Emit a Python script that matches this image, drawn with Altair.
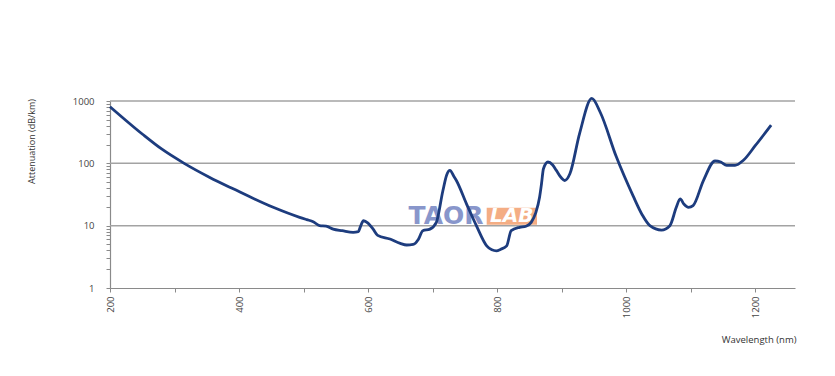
import altair as alt
import pandas as pd

# Wavelength (nm) and attenuation (dB/km)
wavelength = [200, 251, 280, 315, 354, 391, 453, 494, 505, 515, 525, 535, 546, 560, 577,
              585, 588, 593, 600, 608, 615, 634, 650, 660, 670, 678, 685, 696, 706, 716,
              722, 727, 733, 737, 753, 768, 784, 792, 799, 806, 815, 822, 835, 845, 853,
              860, 866, 869, 872, 879, 886, 892, 900, 905, 913, 928, 947, 960, 985, 1011,
              1025, 1037, 1055, 1068, 1078, 1084, 1090, 1097, 1104, 1120, 1138, 1147, 1156,
              1169, 1182, 1200, 1225]
attenuation = [810, 290, 170, 100, 60, 39, 19.7, 13.6, 12.5, 11.6, 10, 9.8, 8.8, 8.3, 7.8,
               8.0, 9.5, 12, 11, 8.8, 7.0, 6.1, 5.2, 4.9, 5.0, 6.0, 8.3, 8.8, 11.3, 36,
               65, 77, 62, 53, 22, 10, 4.75, 4.1, 3.95, 4.2, 4.75, 8.3, 9.4, 9.8, 11.3,
               16, 28.6, 47, 82, 105, 95, 77, 58, 53, 68, 300, 1100, 660, 127, 30,
               15, 10, 8.5, 10, 19.7, 27, 22, 19.7, 21, 53, 109, 105, 93,
               93, 112, 190, 410]

grid_values = [10, 100, 1000]
y_ticks = [1, 2, 3, 4, 5, 6, 7, 8, 9, 10, 20, 30, 40, 50, 60, 70, 80, 90,
           100, 200, 300, 400, 500, 600, 700, 800, 900, 1000]
x_ticks = list(range(200, 1251, 50))

# watermark
wm1_text, wm1_wl, wm1_att = ["TAOR"], [721], [14.3]
wm2_text, wm2_wl, wm2_att = ["LAB"], [823], [14.3]

FONT = "Open Sans"

df = pd.DataFrame({"wl": wavelength, "att": attenuation})
grid_df = pd.DataFrame({"att": grid_values})
wm1_df = pd.DataFrame({"wl": wm1_wl, "att": wm1_att, "t": wm1_text})
wm2_df = pd.DataFrame({"wl": wm2_wl, "att": wm2_att, "t": wm2_text})
box_df = pd.DataFrame({"wl": [784], "wl2": [862], "att": [10.3], "att2": [19.3]})

xscale = alt.Scale(domain=[200, 1262], nice=False, zero=False)
yscale = alt.Scale(type="log", domain=[1, 1000], nice=False)

x_enc = alt.X("wl:Q", scale=xscale, axis=alt.Axis(
    values=x_ticks, format="d",
    labelExpr="datum.value % 200 == 0 ? datum.label : ''",
    labelAngle=-90, labelPadding=4, labelFontSize=9.5, labelColor="#444444",
    labelFont=FONT, tickSize=4, tickColor="#8a8a8a", domainColor="#8a8a8a",
    domainWidth=1.2, grid=False,
    title="Wavelength (nm)", titleFont=FONT, titleFontSize=9.5, titleFontWeight="normal",
    titleColor="#333333", titleAlign="right", titleBaseline="middle",
    titleX=686, titleY=51))

y_enc = alt.Y("att:Q", scale=yscale, axis=alt.Axis(
    values=y_ticks, format="d",
    labelExpr="(datum.value == 1 || datum.value == 10 || datum.value == 100 || datum.value == 1000) ? datum.label : ''",
    labelPadding=12, labelFontSize=9.5, labelColor="#444444", labelFont=FONT,
    tickSize=4, tickColor="#8a8a8a", domainColor="#8a8a8a", domainWidth=1.2, grid=False,
    title="Attenuation (dB/km)", titleFont=FONT, titleFontSize=9, titleFontWeight="normal",
    titleColor="#333333", titleX=-79, titleY=40, titleAngle=-90,
    titleAlign="center", titleBaseline="middle"))

grid = alt.Chart(grid_df).mark_rule(color="#a3a3a3", strokeWidth=1.5).encode(y=y_enc)

line = alt.Chart(df).mark_line(interpolate="monotone", color="#1d3c7e",
                               strokeWidth=2.8).encode(x=x_enc, y=y_enc)

box = alt.Chart(box_df).mark_rect(color="#f3a477", opacity=0.9).encode(
    x="wl:Q", x2="wl2:Q", y="att:Q", y2="att2:Q")

wm1 = alt.Chart(wm1_df).mark_text(fontSize=25, fontWeight="bold", font="DejaVu Sans",
                                  baseline="middle", color="#7c8bc6", opacity=0.9).encode(
    x="wl:Q", y="att:Q", text="t:N")

wm2 = alt.Chart(wm2_df).mark_text(fontSize=20, fontWeight="bold", font="DejaVu Sans",
                                  fontStyle="italic", baseline="middle", color="#ffffff").encode(
    x="wl:Q", y="att:Q", text="t:N")

chart = alt.layer(grid, box, wm1, wm2, line).properties(
    width=685, height=187,
    autosize=alt.AutoSizeParams(type="none"),
    padding={"left": 110, "top": 101, "right": 40, "bottom": 88},
    background="white",
).configure_view(stroke=None)

chart.save("out.html", embed_options={"renderer": "svg", "actions": False})
